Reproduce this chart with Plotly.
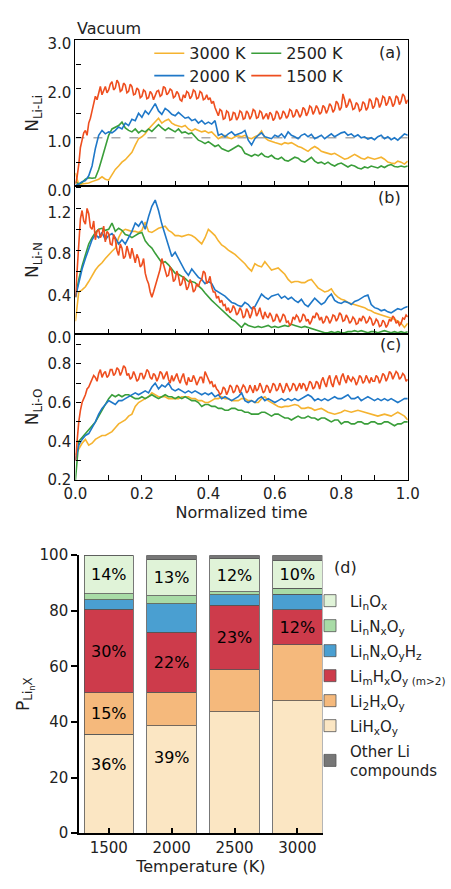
import numpy as np
import plotly.graph_objects as go

FONT = "DejaVu Sans"

# ---------------- time series data ----------------
T = np.round(np.linspace(0, 1, 101), 2)        # step 0.01 (smoother series)
T_FINE = np.round(np.linspace(0, 1, 201), 3)   # step 0.005 (noisy 1500 K series)

# Panel (a): N_Li-Li
LiLi_3000 = [0.28, 0.03, 0.05, 0.06, 0.07, 0.10, 0.12, 0.15, 0.20, 0.15,
             0.13, 0.25, 0.35, 0.42, 0.50, 0.55, 0.62, 0.70, 0.85, 0.98,
             1.02, 1.08, 1.18, 1.25, 1.32, 1.40, 1.30, 1.35, 1.38, 1.30,
             1.26, 1.24, 1.22, 1.25, 1.18, 1.14, 1.18, 1.15, 1.12, 1.14,
             1.10, 1.12, 1.05, 0.98, 1.02, 1.05, 1.00, 0.98, 1.02, 1.04,
             1.02, 1.05, 1.00, 0.98, 1.02, 1.05, 1.14, 1.00, 0.95, 0.92,
             0.90, 0.88, 0.86, 0.90, 0.88, 0.90, 0.86, 0.82, 0.80, 0.76,
             0.72, 0.78, 0.82, 0.78, 0.72, 0.70, 0.68, 0.66, 0.68, 0.64,
             0.60, 0.56, 0.58, 0.62, 0.66, 0.62, 0.58, 0.56, 0.60, 0.58,
             0.56, 0.58, 0.60, 0.56, 0.50, 0.48, 0.47, 0.52, 0.50, 0.46,
             0.52]
LiLi_2500 = [0.10, 0.05, 0.08, 0.15, 0.18, 0.17, 0.18, 0.35, 0.58, 0.80,
             1.05, 1.18, 1.22, 1.25, 1.32, 1.20, 1.15, 1.12, 1.18, 1.10,
             1.15, 1.12, 1.18, 1.13, 1.20, 1.27, 1.20, 1.15, 1.20, 1.16,
             1.12, 1.18, 1.10, 1.12, 1.08, 1.10, 1.02, 0.95, 0.92, 0.88,
             0.92, 0.86, 0.82, 0.85, 0.78, 0.75, 0.72, 0.76, 0.80, 0.84,
             0.80, 0.68, 0.65, 0.62, 0.66, 0.63, 0.68, 0.62, 0.60, 0.64,
             0.58, 0.56, 0.60, 0.54, 0.52, 0.56, 0.60, 0.58, 0.52, 0.50,
             0.55, 0.60, 0.52, 0.48, 0.50, 0.46, 0.50, 0.45, 0.42, 0.46,
             0.48, 0.44, 0.40, 0.44, 0.42, 0.38, 0.36, 0.40, 0.38, 0.42,
             0.40, 0.38, 0.42, 0.39, 0.43, 0.45, 0.41, 0.40, 0.42, 0.40,
             0.42]
LiLi_2000 = [0.02, 0.05, 0.10, 0.12, 0.22, 0.42, 0.78, 1.05, 1.15, 1.08,
             1.12, 1.10, 1.15, 1.22, 1.18, 1.30, 1.25, 1.38, 1.35, 1.50,
             1.42, 1.55, 1.48, 1.58, 1.70, 1.55, 1.48, 1.60, 1.55, 1.48,
             1.45, 1.52, 1.45, 1.40, 1.42, 1.35, 1.38, 1.30, 1.35, 1.28,
             1.32, 1.28, 1.35, 1.05, 1.08, 1.02, 1.08, 1.12, 1.05, 1.08,
             1.10, 1.15, 0.95, 0.85, 0.98, 1.05, 1.10, 1.02, 1.00, 0.98,
             1.05, 1.02, 1.08, 1.00, 1.12, 1.05, 1.02, 0.98, 1.05, 1.08,
             1.02, 1.07, 0.98, 1.02, 1.05, 0.98, 1.03, 1.08, 1.02, 1.06,
             1.10, 1.12, 1.05, 1.08, 1.02, 1.06, 1.00, 1.02, 0.97, 1.00,
             0.96, 1.02, 1.05, 0.98, 1.02, 0.96, 1.00, 0.95, 1.02, 1.08,
             1.05]
LiLi_1500 = [0.05, 0.20, 0.45, 0.80, 0.95, 1.10, 1.15, 1.05, 1.30, 1.40,
             1.55, 1.72, 1.85, 1.78, 1.95, 2.05, 1.88, 1.98, 2.05, 1.92,
             1.98, 2.10, 2.15, 1.98, 2.02, 2.18, 2.12, 1.95, 1.98, 2.12,
             2.08, 1.92, 1.95, 2.10, 2.05, 1.88, 1.90, 2.02, 1.98, 1.82,
             1.85, 1.98, 1.95, 1.80, 1.82, 1.95, 1.90, 1.78, 1.85, 1.95,
             1.97, 1.85, 1.88, 2.05, 2.02, 1.88, 1.92, 2.00, 1.97, 1.82,
             1.85, 1.95, 1.90, 1.78, 1.75, 1.88, 1.82, 1.95, 1.92, 1.80,
             1.85, 1.98, 1.95, 1.80, 1.82, 1.95, 1.92, 1.78, 1.80, 1.88,
             1.78, 1.82, 1.70, 1.75, 1.62, 1.52, 1.45, 1.58, 1.55, 1.38,
             1.40, 1.55, 1.52, 1.36, 1.38, 1.52, 1.50, 1.36, 1.42, 1.55,
             1.52, 1.38, 1.40, 1.55, 1.50, 1.38, 1.45, 1.58, 1.55, 1.40,
             1.42, 1.55, 1.52, 1.38, 1.45, 1.50, 1.38, 1.52, 1.48, 1.35,
             1.40, 1.55, 1.50, 1.38, 1.42, 1.55, 1.50, 1.40, 1.45, 1.58,
             1.55, 1.42, 1.46, 1.58, 1.52, 1.42, 1.48, 1.62, 1.58, 1.45,
             1.52, 1.65, 1.62, 1.48, 1.55, 1.66, 1.60, 1.48, 1.52, 1.66,
             1.62, 1.50, 1.58, 1.70, 1.65, 1.52, 1.58, 1.75, 1.70, 1.56,
             1.62, 1.90, 1.78, 1.62, 1.68, 1.80, 1.72, 1.58, 1.60, 1.72,
             1.68, 1.55, 1.58, 1.74, 1.70, 1.56, 1.62, 1.80, 1.75, 1.60,
             1.65, 1.82, 1.78, 1.62, 1.70, 1.85, 1.82, 1.66, 1.72, 1.85,
             1.78, 1.64, 1.70, 1.86, 1.82, 1.68, 1.75, 1.90, 1.85, 1.70,
             1.78]

# Panel (b): N_Li-N
LiN_3000 = [0.12, 0.40, 0.42, 0.45, 0.50, 0.56, 0.61, 0.65, 0.68, 0.72,
            0.76, 0.79, 0.82, 0.92, 0.98, 1.00, 0.99, 0.98, 0.98, 0.97,
            0.99, 1.07, 0.98, 0.97, 0.99, 1.01, 1.02, 1.03, 0.99, 0.97,
            0.94, 0.94, 0.93, 0.94, 0.95, 0.94, 0.92, 0.89, 0.86, 0.92,
            1.00, 0.97, 0.94, 0.89, 0.85, 0.83, 0.80, 0.78, 0.76, 0.73,
            0.70, 0.67, 0.63, 0.60, 0.67, 0.65, 0.64, 0.69, 0.65, 0.61,
            0.62, 0.63, 0.60, 0.57, 0.52, 0.49, 0.50, 0.50, 0.49, 0.49,
            0.51, 0.52, 0.48, 0.44, 0.42, 0.40, 0.41, 0.43, 0.38, 0.35,
            0.33, 0.32, 0.30, 0.29, 0.28, 0.27, 0.26, 0.25, 0.23, 0.22,
            0.20, 0.19, 0.18, 0.17, 0.16, 0.15, 0.14, 0.12, 0.10, 0.06,
            0.10]
LiN_2500 = [0.35, 0.52, 0.65, 0.76, 0.86, 0.92, 0.97, 1.00, 1.01, 0.99,
            1.00, 1.06, 0.98, 1.01, 0.99, 0.95, 0.94, 0.92, 0.94, 0.96,
            0.97, 0.89, 0.85, 0.82, 0.77, 0.73, 0.68, 0.69, 0.66, 0.62,
            0.58, 0.57, 0.55, 0.53, 0.50, 0.50, 0.49, 0.46, 0.43, 0.39,
            0.35, 0.32, 0.29, 0.26, 0.23, 0.20, 0.17, 0.14, 0.12, 0.09,
            0.06, 0.10, 0.08, 0.07, 0.06, 0.07, 0.06, 0.07, 0.08, 0.06,
            0.07, 0.06, 0.07, 0.08, 0.07, 0.09, 0.08, 0.07, 0.06, 0.07,
            0.06, 0.05, 0.04, 0.03, 0.02, 0.01, 0.01, 0.02, 0.01, 0.02,
            0.01, 0.01, 0.02, 0.02, 0.03, 0.02, 0.03, 0.02, 0.01, 0.02,
            0.02, 0.01, 0.02, 0.03, 0.02, 0.01, 0.02, 0.01, 0.02, 0.01,
            0.02]
LiN_2000 = [0.35, 0.50, 0.62, 0.72, 0.82, 0.90, 0.95, 0.92, 0.97, 0.90,
            0.94, 0.96, 0.92, 0.86, 0.90, 0.86, 0.92, 0.98, 1.06, 1.03,
            1.08, 1.00, 1.12, 1.22, 1.28, 1.18, 1.05, 0.95, 0.86, 0.74,
            0.78, 0.72, 0.66, 0.60, 0.56, 0.62, 0.58, 0.54, 0.52, 0.48,
            0.50, 0.48, 0.42, 0.40, 0.38, 0.36, 0.33, 0.30, 0.29, 0.27,
            0.26, 0.30, 0.28, 0.24, 0.26, 0.32, 0.38, 0.35, 0.33, 0.36,
            0.37, 0.38, 0.34, 0.36, 0.33, 0.35, 0.32, 0.30, 0.33, 0.28,
            0.26, 0.30, 0.34, 0.31, 0.28, 0.30, 0.35, 0.38, 0.32, 0.30,
            0.29, 0.31, 0.30, 0.28, 0.31, 0.32, 0.34, 0.36, 0.37, 0.28,
            0.25, 0.24, 0.22, 0.23, 0.21, 0.20, 0.22, 0.24, 0.23, 0.25,
            0.26]
LiN_1500 = [0.35, 0.60, 0.90, 1.10, 1.18, 1.08, 1.05, 1.20, 1.15, 1.02,
            1.00, 1.08, 0.90, 0.98, 1.00, 0.92, 0.95, 1.03, 0.88, 0.98,
            0.96, 0.86, 0.85, 0.95, 0.90, 0.80, 0.75, 0.86, 0.82, 0.72,
            0.74, 0.84, 0.78, 0.72, 0.82, 0.74, 0.68, 0.76, 0.72, 0.64,
            0.66, 0.72, 0.58, 0.52, 0.48, 0.40, 0.35, 0.40, 0.45, 0.50,
            0.55, 0.62, 0.72, 0.66, 0.62, 0.55, 0.56, 0.64, 0.60, 0.50,
            0.52, 0.60, 0.55, 0.46, 0.48, 0.55, 0.50, 0.42, 0.45, 0.52,
            0.48, 0.40, 0.42, 0.48, 0.45, 0.50, 0.52, 0.60, 0.58, 0.48,
            0.50, 0.55, 0.45, 0.40, 0.40, 0.34, 0.36, 0.30, 0.32, 0.27,
            0.28, 0.22, 0.25, 0.20, 0.22, 0.27, 0.24, 0.18, 0.20, 0.25,
            0.22, 0.15, 0.17, 0.24, 0.21, 0.15, 0.19, 0.26, 0.24, 0.17,
            0.20, 0.25, 0.18, 0.14, 0.21, 0.17, 0.15, 0.20, 0.17, 0.12,
            0.13, 0.19, 0.16, 0.11, 0.14, 0.19, 0.17, 0.11, 0.12, 0.08,
            0.10, 0.16, 0.14, 0.18, 0.16, 0.11, 0.13, 0.19, 0.17, 0.12,
            0.14, 0.09, 0.12, 0.17, 0.15, 0.20, 0.18, 0.13, 0.16, 0.10,
            0.12, 0.17, 0.15, 0.10, 0.13, 0.18, 0.17, 0.12, 0.15, 0.20,
            0.18, 0.12, 0.13, 0.18, 0.15, 0.10, 0.12, 0.16, 0.14, 0.09,
            0.10, 0.15, 0.12, 0.17, 0.15, 0.10, 0.12, 0.16, 0.14, 0.08,
            0.10, 0.14, 0.12, 0.07, 0.08, 0.13, 0.11, 0.06, 0.09, 0.14,
            0.12, 0.17, 0.15, 0.10, 0.12, 0.08, 0.10, 0.15, 0.14, 0.18,
            0.16]

# Panel (c): N_Li-O
LiO_3000 = [0.33, 0.36, 0.39, 0.41, 0.38, 0.39, 0.41, 0.42, 0.43, 0.43,
            0.44, 0.45, 0.47, 0.49, 0.50, 0.51, 0.53, 0.54, 0.58, 0.60,
            0.61, 0.62, 0.63, 0.65, 0.64, 0.63, 0.63, 0.63, 0.62, 0.62,
            0.62, 0.62, 0.63, 0.63, 0.63, 0.62, 0.62, 0.61, 0.61, 0.60,
            0.60, 0.61, 0.62, 0.62, 0.63, 0.62, 0.62, 0.61, 0.61, 0.61,
            0.62, 0.62, 0.61, 0.61, 0.60, 0.60, 0.62, 0.63, 0.61, 0.60,
            0.59, 0.58, 0.575, 0.58, 0.58, 0.585, 0.59, 0.585, 0.57, 0.57,
            0.575, 0.57, 0.56, 0.565, 0.57, 0.56, 0.55, 0.545, 0.54, 0.545,
            0.55, 0.56, 0.555, 0.55, 0.555, 0.56, 0.555, 0.55, 0.545, 0.54,
            0.535, 0.53, 0.535, 0.54, 0.535, 0.53, 0.54, 0.55, 0.54, 0.53,
            0.51]
LiO_2500 = [0.20, 0.40, 0.42, 0.44, 0.46, 0.48, 0.50, 0.53, 0.56, 0.59,
            0.62, 0.64, 0.63, 0.64, 0.63, 0.64, 0.64, 0.63, 0.62, 0.62,
            0.63, 0.62, 0.63, 0.64, 0.63, 0.62, 0.63, 0.64, 0.63, 0.63,
            0.62, 0.63, 0.62, 0.63, 0.62, 0.61, 0.61, 0.60, 0.58, 0.59,
            0.59, 0.58, 0.58, 0.57, 0.57, 0.56, 0.56, 0.57, 0.57, 0.56,
            0.56, 0.55, 0.55, 0.54, 0.54, 0.54, 0.55, 0.55, 0.54, 0.53,
            0.54, 0.54, 0.53, 0.52, 0.52, 0.51, 0.52, 0.53, 0.52, 0.52,
            0.53, 0.52, 0.52, 0.51, 0.52, 0.52, 0.51, 0.50, 0.51, 0.51,
            0.49, 0.50, 0.50, 0.49, 0.49, 0.50, 0.50, 0.49, 0.49, 0.50,
            0.50, 0.49, 0.49, 0.50, 0.50, 0.49, 0.48, 0.49, 0.49, 0.50,
            0.50]
LiO_2000 = [0.30, 0.38, 0.41, 0.43, 0.44, 0.47, 0.50, 0.54, 0.57, 0.59,
            0.61, 0.60, 0.59, 0.61, 0.61, 0.62, 0.63, 0.64, 0.65, 0.64,
            0.65, 0.66, 0.65, 0.68, 0.70, 0.67, 0.69, 0.68, 0.70, 0.67,
            0.66, 0.67, 0.66, 0.65, 0.66, 0.65, 0.66, 0.65, 0.64, 0.65,
            0.64, 0.65, 0.63, 0.64, 0.62, 0.63, 0.62, 0.61, 0.62, 0.63,
            0.65, 0.61, 0.60, 0.61, 0.60, 0.62, 0.63, 0.61, 0.62, 0.61,
            0.60, 0.61, 0.62, 0.61, 0.62, 0.61, 0.62, 0.61, 0.62, 0.63,
            0.64, 0.63, 0.61, 0.62, 0.61, 0.62, 0.61, 0.62, 0.63, 0.62,
            0.62, 0.63, 0.64, 0.62, 0.62, 0.63, 0.61, 0.62, 0.63, 0.62,
            0.61, 0.62, 0.61, 0.62, 0.61, 0.62, 0.61, 0.60, 0.61, 0.62,
            0.62]
LiO_1500 = [0.30, 0.42, 0.50, 0.56, 0.60, 0.62, 0.64, 0.67, 0.68, 0.70,
            0.72, 0.74, 0.73, 0.71, 0.75, 0.77, 0.73, 0.75, 0.76, 0.73,
            0.74, 0.77, 0.77, 0.74, 0.75, 0.78, 0.77, 0.74, 0.76, 0.79,
            0.78, 0.74, 0.75, 0.72, 0.73, 0.76, 0.74, 0.71, 0.72, 0.75,
            0.75, 0.72, 0.74, 0.77, 0.76, 0.73, 0.72, 0.75, 0.74, 0.71,
            0.73, 0.76, 0.75, 0.72, 0.74, 0.76, 0.72, 0.70, 0.74, 0.71,
            0.73, 0.75, 0.72, 0.70, 0.73, 0.75, 0.71, 0.69, 0.73, 0.71,
            0.71, 0.74, 0.72, 0.69, 0.71, 0.73, 0.73, 0.70, 0.76, 0.74,
            0.72, 0.70, 0.71, 0.68, 0.69, 0.67, 0.66, 0.64, 0.65, 0.68,
            0.67, 0.64, 0.66, 0.69, 0.68, 0.65, 0.66, 0.69, 0.68, 0.65,
            0.67, 0.69, 0.68, 0.65, 0.66, 0.69, 0.67, 0.65, 0.69, 0.66,
            0.67, 0.70, 0.68, 0.65, 0.66, 0.69, 0.68, 0.65, 0.67, 0.70,
            0.69, 0.66, 0.67, 0.70, 0.68, 0.65, 0.67, 0.70, 0.68, 0.66,
            0.67, 0.70, 0.69, 0.66, 0.68, 0.70, 0.67, 0.70, 0.69, 0.66,
            0.68, 0.71, 0.70, 0.67, 0.68, 0.71, 0.70, 0.67, 0.71, 0.73,
            0.70, 0.68, 0.72, 0.74, 0.70, 0.68, 0.72, 0.74, 0.71, 0.69,
            0.73, 0.75, 0.72, 0.70, 0.74, 0.72, 0.71, 0.73, 0.72, 0.69,
            0.71, 0.74, 0.73, 0.70, 0.71, 0.74, 0.72, 0.70, 0.73, 0.71,
            0.71, 0.74, 0.73, 0.70, 0.72, 0.75, 0.74, 0.71, 0.73, 0.76,
            0.75, 0.72, 0.74, 0.76, 0.75, 0.72, 0.73, 0.75, 0.74, 0.71,
            0.72]

SERIES_NAMES = ["3000 K", "2500 K", "2000 K", "1500 K"]
SERIES_COLORS = ["#f5b330", "#3a9e3a", "#1f78c8", "#ee4e1f"]

# ---------------- stacked bar data (d) ----------------
TEMPS = ["1500", "2000", "2500", "3000"]
BAR_NAMES = ["LiH<sub>x</sub>O<sub>y</sub>",
             "Li<sub>2</sub>H<sub>x</sub>O<sub>y</sub>",
             "Li<sub>m</sub>H<sub>x</sub>O<sub>y (m&gt;2)</sub>",
             "Li<sub>n</sub>N<sub>x</sub>O<sub>y</sub>H<sub>z</sub>",
             "Li<sub>n</sub>N<sub>x</sub>O<sub>y</sub>",
             "Li<sub>n</sub>O<sub>x</sub>",
             "Other Li<br>compounds"]
LiHxOy = [35.5, 38.6, 43.6, 47.6]
Li2HxOy = [15.0, 12.0, 15.2, 20.2]
LimHxOy = [30.0, 21.6, 23.1, 12.6]
LinNxOyHz = [3.5, 10.3, 3.8, 5.6]
LinNxOy = [2.1, 2.9, 1.2, 2.1]
LinOx = [13.9, 13.2, 11.9, 9.9]
Other = [0.0, 1.4, 1.2, 2.0]
BAR_VALUES = [LiHxOy, Li2HxOy, LimHxOy, LinNxOyHz, LinNxOy, LinOx, Other]
BAR_COLORS = ["#fbe6c3", "#f5b97c", "#cd3b4b", "#4a9fd1", "#a8dba6", "#e0f3d8", "#777777"]
BAR_LEGEND_RANK = [6, 5, 4, 3, 2, 1, 7]
LABEL_LiHxOy = ["36%", "39%", "", ""]
LABEL_Li2HxOy = ["15%", "", "", ""]
LABEL_LimHxOy = ["30%", "22%", "23%", "12%"]
LABEL_LinOx = ["14%", "13%", "12%", "10%"]
BAR_TEXT = [None, LABEL_Li2HxOy, LABEL_LimHxOy, None, None, LABEL_LinOx, None]

# ---------------- figure ----------------
W, H = 451, 889
def py(px):
    return 1 - px / H
def px_(px):
    return px / W

fig = go.Figure()

panels = [("x", "y", [LiLi_3000, LiLi_2500, LiLi_2000, LiLi_1500]),
          ("x2", "y2", [LiN_3000, LiN_2500, LiN_2000, LiN_1500]),
          ("x3", "y3", [LiO_3000, LiO_2500, LiO_2000, LiO_1500])]
for p, (xa, ya, data) in enumerate(panels):
    for k, vals in enumerate(data):
        tx = T_FINE if len(vals) == len(T_FINE) else T
        fig.add_trace(go.Scatter(
            x=tx, y=vals, mode="lines", name=SERIES_NAMES[k],
            line=dict(color=SERIES_COLORS[k], width=1.6),
            xaxis=xa, yaxis=ya,
            showlegend=(p == 0),
            legend="legend" if k < 2 else "legend2"))

for i, vals in enumerate(BAR_VALUES):
    fig.add_trace(go.Bar(
        x=TEMPS, y=vals, name=BAR_NAMES[i],
        marker=dict(color=BAR_COLORS[i], line=dict(color="#555555", width=0.8)),
        text=BAR_TEXT[i] if BAR_TEXT[i] is not None else None,
        textposition="inside" if BAR_TEXT[i] is not None else "none",
        insidetextanchor="middle",
        textfont=dict(family=FONT, size=16, color="black"),
        xaxis="x4", yaxis="y4", legend="legend3", legendgroup=f"g{BAR_LEGEND_RANK[i]}",
        legendrank=BAR_LEGEND_RANK[i]))

# labels inside LiHxOy segment (placed in the upper part of the segment)
for i, t in enumerate(TEMPS):
    if LABEL_LiHxOy[i]:
        fig.add_annotation(x=i, y=LiHxOy[i] * 0.7, xref="x4", yref="y4",
                           text=LABEL_LiHxOy[i], showarrow=False,
                           font=dict(family=FONT, size=16, color="black"))

xdom = [px_(67), px_(418)]
common_x = dict(range=[0, 1], showline=True, mirror=True, linecolor="black", linewidth=1.2,
                ticks="inside", ticklen=5, tickwidth=1.2, tickcolor="black", dtick=0.2,
                tick0=0, minor=dict(dtick=0.1, ticks="inside", ticklen=5, tickwidth=1.2,
                                    tickcolor="black", showgrid=False),
                showgrid=False, zeroline=False, domain=xdom, tickformat=".1f",
                tickfont=dict(family=FONT, size=15, color="#222"))
common_y = dict(showline=True, mirror=True, linecolor="black", linewidth=1.2,
                ticks="inside", ticklen=5, tickwidth=1.2, tickcolor="black",
                showgrid=False, zeroline=False, tickformat=".1f",
                tickfont=dict(family=FONT, size=15, color="#222"),
                title_font=dict(family=FONT, size=17, color="#222"), title_standoff=4)

fig.update_layout(
    width=W, height=H, margin=dict(l=0, r=0, t=0, b=0),
    paper_bgcolor="white", plot_bgcolor="white",
    font=dict(family=FONT, color="#222"),
    barmode="stack", bargap=0.215,
    uniformtext=dict(minsize=16, mode="show"),
    xaxis=dict(common_x, anchor="y", showticklabels=False, matches="x3"),
    xaxis2=dict(common_x, anchor="y2", showticklabels=False, matches="x3"),
    xaxis3=dict(common_x, anchor="y3", showticklabels=True,
                title=dict(text="Normalized time", font=dict(family=FONT, size=16, color="#222"),
                           standoff=2)),
    yaxis=dict(common_y, domain=[py(182), py(32)], range=[0, 3], dtick=1, tick0=0,
               ticklabelshift=4,
               minor=dict(dtick=0.5, ticks="inside", ticklen=5, tickwidth=1.2, tickcolor="black"),
               anchor="x", title=dict(text="N<sub>Li-Li</sub>")),
    yaxis2=dict(common_y, domain=[py(333), py(182)], range=[0, 1.41], dtick=0.4, tick0=0,
                ticklabelshift=4,
                minor=dict(dtick=0.2, ticks="inside", ticklen=5, tickwidth=1.2, tickcolor="black"),
                anchor="x2", title=dict(text="N<sub>Li-N</sub>")),
    yaxis3=dict(common_y, domain=[py(483), py(333)], range=[0.2, 0.955], dtick=0.2, tick0=0.2,
                minor=dict(dtick=0.1, ticks="inside", ticklen=5, tickwidth=1.2, tickcolor="black"),
                anchor="x3", title=dict(text="N<sub>Li-O</sub>")),
    xaxis4=dict(domain=[px_(71), px_(328)], anchor="y4", range=[-0.47, 3.4], type="category",
                showline=True, linecolor="black", linewidth=2, ticks="inside", ticklen=5,
                tickwidth=1.5, tickcolor="black", showgrid=False, zeroline=False,
                tickfont=dict(family=FONT, size=15, color="#222"),
                title=dict(text="Temperature (K)", font=dict(family=FONT, size=16, color="#222"),
                           standoff=2)),
    yaxis4=dict(domain=[py(845), py(560)], anchor="x4", range=[0, 100], dtick=20,
                showline=True, linecolor="black", linewidth=2, ticks="outside", ticklen=6,
                tickwidth=1.5, tickcolor="black", showgrid=False, zeroline=False,
                tickfont=dict(family=FONT, size=15, color="#222"),
                title=dict(text="P<sub>Li<sub>n</sub>X</sub>", font=dict(family=FONT, size=17, color="#222"),
                           standoff=6)),
    legend=dict(x=px_(145), y=py(28), xanchor="left", yanchor="top", orientation="h",
                entrywidth=52, font=dict(family=FONT, size=16, color="#222"),
                bgcolor="rgba(0,0,0,0)", tracegroupgap=0),
    legend2=dict(x=px_(145), y=py(51), xanchor="left", yanchor="top", orientation="h",
                 entrywidth=52, font=dict(family=FONT, size=16, color="#222"),
                 bgcolor="rgba(0,0,0,0)", tracegroupgap=0),
    legend3=dict(x=px_(315), y=py(590), xanchor="left", yanchor="top", orientation="v",
                 traceorder="grouped",
                 font=dict(family=FONT, size=15, color="#222"),
                 bgcolor="rgba(0,0,0,0)", tracegroupgap=2.5),
)

# reference line at N = 1 in panel (a)
fig.add_shape(type="line", xref="x", yref="y", x0=0, x1=1, y0=1, y1=1,
              line=dict(color="#aaaaaa", width=1.5, dash="dash"), layer="below")

# panel labels
for txt, ref, yv in [("(a)", "y", 2.75), ("(b)", "y2", 1.3), ("(c)", "y3", 0.9)]:
    fig.add_annotation(x=0.985, y=yv, xref="x", yref=ref, text=txt, showarrow=False,
                       xanchor="right", yanchor="middle",
                       font=dict(family=FONT, size=16, color="#222"))
fig.add_annotation(x=px_(67), y=py(20), xref="paper", yref="paper", text="Vacuum",
                   showarrow=False, xanchor="left", yanchor="middle",
                   font=dict(family=FONT, size=16, color="#222"))
fig.add_annotation(x=px_(338), y=py(573), xref="paper", yref="paper", text="(d)",
                   showarrow=False, xanchor="left", yanchor="middle",
                   font=dict(family=FONT, size=16, color="#222"))

fig.write_html("out.html")
